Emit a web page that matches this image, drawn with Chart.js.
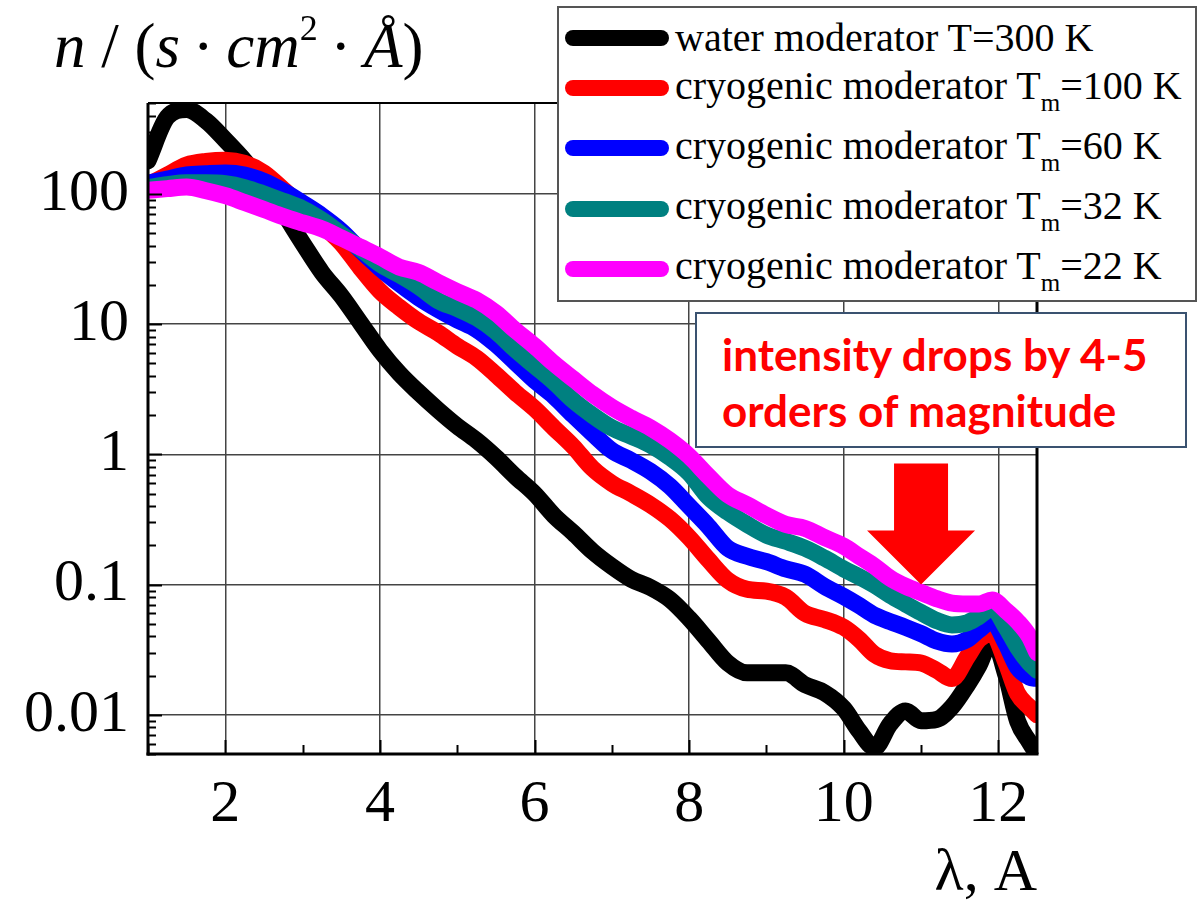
<!DOCTYPE html>
<html lang="en">
<head>
    <meta charset="UTF-8">
    <title>Neutron flux vs wavelength</title>
    <script src="https://cdn.jsdelivr.net/npm/chart.js"></script>
    <style>
        body {
            margin: 0;
            padding: 0;
            background-color: #fff;
        }

        .wrap {
            position: relative;
            width: 1204px;
            height: 900px;
        }

        #chart {
            position: absolute;
            left: 0;
            top: 0;
        }

        .y-title {
            position: absolute;
            left: 54px;
            top: 15px;
            font-family: 'Liberation Serif', 'Times New Roman', serif;
            font-size: 63px;
            line-height: 63px;
            white-space: nowrap;
            color: #000;
        }

        .y-title sup {
            font-size: 36px;
            line-height: 0;
            vertical-align: 27px;
        }

        .legend {
            position: absolute;
            left: 557px;
            top: 6px;
            width: 636px;
            height: 292px;
            border: 2px solid #555;
            background: #fff;
        }

        .legend-row {
            position: absolute;
            left: 0;
            height: 40px;
            font-family: 'Liberation Serif', 'Times New Roman', serif;
            font-size: 40px;
            line-height: 40px;
            white-space: nowrap;
            color: #000;
        }

        .legend-row .swatch {
            position: absolute;
            left: 6px;
            width: 104px;
            height: 16px;
            border-radius: 8px;
        }

        .legend-row .label {
            position: absolute;
            left: 116px;
            top: 0;
        }

        .legend-row sub {
            font-size: 25px;
            line-height: 0;
            vertical-align: -12px;
        }

        .note {
            position: absolute;
            left: 695px;
            top: 312px;
            width: 488px;
            height: 132px;
            border: 2px solid #3a5270;
            background: #fff;
        }

        .note-text {
            position: absolute;
            left: 25px;
            top: 12px;
            font-family: Lato, 'Open Sans', sans-serif;
            font-weight: bold;
            font-size: 44px;
            line-height: 56px;
            color: #ff0000;
            white-space: nowrap;
        }
    </style>
</head>
<body>
<div class="wrap">
    <canvas id="chart" width="1204" height="900"></canvas>

    <div class="y-title"><i>n</i> / (<i>s</i>&thinsp;·&thinsp;<i>cm</i><sup>2</sup>&thinsp;·&thinsp;<i>Å</i>)</div>

    <div class="legend" id="legend"></div>

    <div class="note">
        <div class="note-text">intensity drops by 4-5<br>orders of magnitude</div>
    </div>
</div>
<script>
    // wavelength grid, Angstrom
    const lambda = [1.0, 1.25, 1.5, 1.75, 2.0, 2.25, 2.5, 2.75, 3.0, 3.25, 3.5, 3.75, 4.0, 4.25, 4.5, 4.75,
        5.0, 5.25, 5.5, 5.75, 6.0, 6.25, 6.5, 6.75, 7.0, 7.25, 7.5, 7.75, 8.0, 8.25, 8.5, 8.75,
        9.0, 9.25, 9.5, 9.75, 10.0, 10.2, 10.4, 10.6, 10.8, 11.0, 11.2, 11.4, 11.6, 11.75, 11.92,
        12.1, 12.25, 12.4, 12.5];

    // flux, n/(s cm^2 A)
    const water300 = [180, 390, 445, 365, 260, 180, 118, 72, 42, 25, 16.5, 10.2, 6.3, 4.2, 3.0, 2.2,
        1.65, 1.28, 0.95, 0.68, 0.50, 0.34, 0.25, 0.18, 0.138, 0.110, 0.095, 0.077, 0.055, 0.037, 0.025, 0.021,
        0.021, 0.021, 0.017, 0.0148, 0.0112, 0.0075, 0.0056, 0.0085, 0.0107, 0.0090, 0.0092, 0.0115, 0.017, 0.024, 0.038,
        0.020, 0.0089, 0.0062, 0.005];
    const cryo100 = [117, 140, 167, 178, 182, 172, 145, 108, 80, 58, 42, 27, 18, 13.5, 10.5, 8.6,
        6.8, 5.5, 4.1, 3.0, 2.25, 1.6, 1.15, 0.78, 0.60, 0.50, 0.41, 0.32, 0.23, 0.155, 0.108, 0.092,
        0.089, 0.080, 0.060, 0.054, 0.047, 0.038, 0.029, 0.026, 0.0255, 0.025, 0.022, 0.019, 0.028, 0.038, 0.042,
        0.025, 0.0145, 0.0115, 0.010];
    const cryo60 = [121, 130, 140, 143, 145, 140, 125, 105, 85, 68, 52, 37, 27, 20.5, 16, 13,
        10.8, 9.1, 7.0, 5.1, 3.7, 2.8, 2.0, 1.45, 1.07, 0.90, 0.74, 0.57, 0.40, 0.28, 0.19, 0.165,
        0.150, 0.132, 0.120, 0.097, 0.081, 0.069, 0.058, 0.052, 0.047, 0.042, 0.037, 0.035, 0.038, 0.045, 0.052,
        0.035, 0.023, 0.0195, 0.019];
    const cryo32 = [112, 118, 122, 122, 120, 112, 100, 88, 77, 63, 49, 38, 29, 24, 19.5, 15.2,
        13.2, 11.2, 8.8, 6.4, 4.8, 3.6, 2.6, 2.0, 1.6, 1.38, 1.18, 0.95, 0.72, 0.47, 0.36, 0.29,
        0.24, 0.215, 0.19, 0.16, 0.132, 0.115, 0.099, 0.083, 0.071, 0.061, 0.053, 0.049, 0.051, 0.057, 0.066,
        0.047, 0.033, 0.025, 0.022];
    const cryo22 = [107, 110, 113, 106, 97, 86, 76, 67, 60, 54, 46, 39, 33, 27.5, 25, 21,
        17.8, 15.3, 12.2, 9.0, 6.8, 5.0, 3.8, 2.9, 2.3, 1.9, 1.6, 1.28, 0.97, 0.68, 0.49, 0.41,
        0.34, 0.29, 0.27, 0.23, 0.197, 0.165, 0.138, 0.112, 0.097, 0.087, 0.078, 0.072, 0.071, 0.071, 0.076,
        0.063, 0.052, 0.040, 0.030];

    const xTicks = [2, 4, 6, 8, 10, 12];
    const yTicks = [0.01, 0.1, 1, 10, 100];

    const seriesNames = ['water moderator T=300 K',
        'cryogenic moderator T<sub>m</sub>=100 K',
        'cryogenic moderator T<sub>m</sub>=60 K',
        'cryogenic moderator T<sub>m</sub>=32 K',
        'cryogenic moderator T<sub>m</sub>=22 K'];
    const seriesColors = ['#000000', '#ff0000', '#0000ff', '#008080', '#ff00ff'];
    const seriesValues = [water300, cryo100, cryo60, cryo32, cryo22];

    const serif = "'Liberation Serif', 'Times New Roman', serif";

    // frame, inward ticks and the red arrow
    const frameAndArrow = {
        id: 'frameAndArrow',
        afterDatasetsDraw(chart) {
            const ctx = chart.ctx;
            const a = chart.chartArea;
            const x = chart.scales.x;
            const y = chart.scales.y;

            function seg(x1, y1, x2, y2) {
                ctx.beginPath();
                ctx.moveTo(x1, y1);
                ctx.lineTo(x2, y2);
                ctx.stroke();
            }

            ctx.save();

            // arrow pointing at lambda = 11
            const ax = x.getPixelForValue(11);
            const tip = y.getPixelForValue(0.1);
            const base = y.getPixelForValue(0.26);
            const top = y.getPixelForValue(0.85);
            ctx.fillStyle = '#ff0000';
            ctx.beginPath();
            ctx.moveTo(ax - 27, top);
            ctx.lineTo(ax + 27, top);
            ctx.lineTo(ax + 27, base);
            ctx.lineTo(ax + 54, base);
            ctx.lineTo(ax, tip);
            ctx.lineTo(ax - 54, base);
            ctx.lineTo(ax - 27, base);
            ctx.closePath();
            ctx.fill();

            ctx.strokeStyle = '#000';
            ctx.lineWidth = 2;
            // log minor ticks on the left
            for (let e = -3; e <= 3; e++) {
                for (let m = 1; m < 10; m++) {
                    const v = m * Math.pow(10, e);
                    if (v < y.min || v > y.max) continue;
                    const py = Math.round(y.getPixelForValue(v)) + 0.5;
                    seg(a.left, py, a.left + (m === 1 ? 14 : 8), py);
                }
            }
            // ticks on the bottom
            for (let v = Math.ceil(x.min); v <= x.max; v++) {
                const px = Math.round(x.getPixelForValue(v)) + 0.5;
                seg(px, a.bottom, px, a.bottom - (v % 2 === 0 ? 14 : 9));
            }

            // frame
            ctx.lineWidth = 2;
            seg(a.left, a.top, a.right, a.top);
            ctx.lineWidth = 3;
            seg(a.right, a.top, a.right, a.bottom);
            seg(a.left, a.top, a.left, a.bottom + 1.5);
            seg(a.left - 1.5, a.bottom, a.right + 1.5, a.bottom);
            ctx.restore();
        }
    };

    const datasets = seriesValues.map((vals, i) => ({
        label: seriesNames[i].replace(/<\/?sub>/g, ''),
        data: lambda.map((l, j) => ({ x: l, y: vals[j] })),
        borderColor: seriesColors[i],
        backgroundColor: seriesColors[i],
        borderWidth: 17,
        borderCapStyle: 'round',
        borderJoinStyle: 'round',
        pointRadius: 0,
        cubicInterpolationMode: 'monotone',
        fill: false,
        clip: 0,
        order: seriesValues.length - i
    }));

    new Chart(document.getElementById('chart').getContext('2d'), {
        type: 'line',
        data: { datasets: datasets },
        options: {
            responsive: false,
            animation: false,
            events: [],
            layout: {
                padding: { top: 103, right: 167, bottom: 0, left: 0 }
            },
            plugins: {
                legend: { display: false },
                tooltip: { enabled: false }
            },
            scales: {
                x: {
                    type: 'linear',
                    position: 'bottom',
                    min: 1,
                    max: 12.5,
                    afterBuildTicks: s => { s.ticks = xTicks.map(v => ({ value: v })); },
                    afterFit: s => { s.height = 146; },
                    border: { display: false },
                    grid: { color: '#444', lineWidth: 1.5, drawTicks: false },
                    ticks: {
                        color: '#000',
                        font: { family: serif, size: 60 },
                        padding: 15,
                        maxRotation: 0,
                        autoSkip: false
                    },
                    title: {
                        display: true,
                        text: 'λ, A',
                        align: 'end',
                        color: '#000',
                        font: { family: serif, size: 60 },
                        padding: { top: 0, bottom: -10 }
                    }
                },
                y: {
                    type: 'logarithmic',
                    position: 'left',
                    min: 0.005,
                    max: 500,
                    afterBuildTicks: s => { s.ticks = yTicks.map(v => ({ value: v })); },
                    afterFit: s => { s.width = 148; },
                    border: { display: false },
                    grid: { color: '#444', lineWidth: 1.5, drawTicks: false },
                    ticks: {
                        color: '#000',
                        font: { family: serif, size: 60 },
                        padding: 19,
                        callback: v => String(v)
                    }
                }
            }
        },
        plugins: [frameAndArrow]
    });

    // legend, drawn as html so the subscripts stay real text
    const rowTops = [18, 66, 126, 186, 246];
    const swatchCenters = [38, 88, 148, 209, 269];
    const legend = document.getElementById('legend');
    seriesNames.forEach((name, i) => {
        const row = document.createElement('div');
        row.className = 'legend-row';
        row.style.top = (rowTops[i] - 8) + 'px';
        const sw = document.createElement('div');
        sw.className = 'swatch';
        sw.style.background = seriesColors[i];
        sw.style.top = (swatchCenters[i] - rowTops[i] - 8) + 'px';
        const label = document.createElement('span');
        label.className = 'label';
        label.innerHTML = name;
        row.appendChild(sw);
        row.appendChild(label);
        legend.appendChild(row);
    });
</script>
</body>
</html>
